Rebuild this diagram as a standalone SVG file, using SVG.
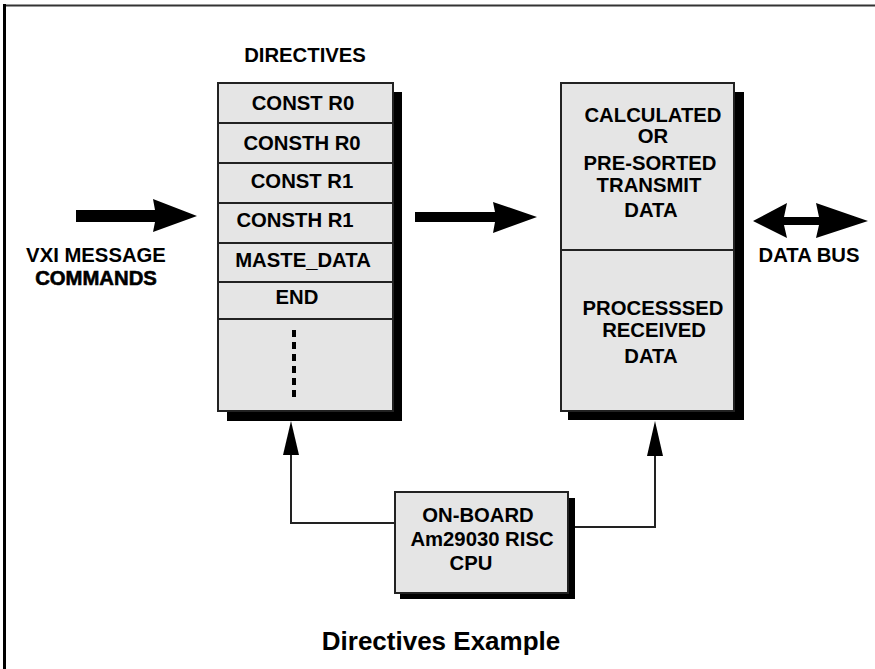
<svg xmlns="http://www.w3.org/2000/svg" width="875" height="669" viewBox="0 0 875 669">
<defs>
<style>
text{font-family:"Liberation Sans",Arial,Helvetica,sans-serif;font-weight:bold;font-size:20.3px;fill:#000;text-anchor:middle}
.box{fill:#e5e5e5;stroke:#222;stroke-width:2}
.shadow{fill:#000}
.div{stroke:#222;stroke-width:2}
.conn{fill:none;stroke:#222;stroke-width:2}
</style>
</defs>
<rect width="875" height="669" fill="#fff"/>
<g id="frame">
<line x1="3" y1="5.5" x2="875" y2="5.5" stroke="#333" stroke-width="2"/>
<line x1="4.5" y1="4" x2="4.5" y2="669" stroke="#000" stroke-width="3"/>
</g>
<g id="directives">
<text x="305" y="62">DIRECTIVES</text>
<rect class="shadow" x="227" y="92" width="175" height="329"/>
<rect class="box" x="218" y="83" width="175" height="328"/>
<line class="div" x1="218" y1="123" x2="393" y2="123"/>
<line class="div" x1="218" y1="163" x2="393" y2="163"/>
<line class="div" x1="218" y1="203" x2="393" y2="203"/>
<line class="div" x1="218" y1="243" x2="393" y2="243"/>
<line class="div" x1="218" y1="282" x2="393" y2="282"/>
<line class="div" x1="218" y1="319" x2="393" y2="319"/>
<text x="303" y="110">CONST R0</text>
<text x="302" y="150">CONSTH R0</text>
<text x="302" y="188">CONST R1</text>
<text x="295" y="227">CONSTH R1</text>
<text x="303" y="267">MASTE_DATA</text>
<text x="297" y="304">END</text>
<line x1="294" y1="330" x2="294" y2="402" stroke="#000" stroke-width="4" stroke-dasharray="7 5"/>
</g>
<g id="data">
<rect class="shadow" x="568" y="92" width="176" height="328"/>
<rect class="box" x="561" y="83" width="173" height="328"/>
<line class="div" x1="561" y1="250" x2="734" y2="250"/>
<text x="653" y="122">CALCULATED</text>
<text x="653" y="143">OR</text>
<text x="650" y="170">PRE-SORTED</text>
<text x="649" y="192">TRANSMIT</text>
<text x="651" y="217">DATA</text>
<text x="653" y="315">PROCESSSED</text>
<text x="654" y="337">RECEIVED</text>
<text x="651" y="363">DATA</text>
</g>
<g id="cpu">
<rect class="shadow" x="400" y="498" width="175" height="101"/>
<rect class="box" x="395" y="492" width="173" height="101"/>
<text x="478" y="522">ON-BOARD</text>
<text x="482" y="546">Am29030 RISC</text>
<text x="471" y="570">CPU</text>
</g>
<g id="vxi">
<text x="96" y="262">VXI MESSAGE</text>
<text x="96" y="285" stroke="#000" stroke-width="0.6">COMMANDS</text>
</g>
<g id="databus">
<path d="M753,221 L787,203 L784,217 L819,217 L816,203 L868,221 L816,238 L819,225 L784,225 L787,238 Z" fill="#000"/>
<text x="809" y="262">DATA BUS</text>
</g>
<g id="connectors">
<path d="M76,210 L155,210 L153,199 L197,216 L153,232 L155,222 L76,222 Z" fill="#000"/>
<path d="M415,212 L495,212 L493,202 L537,217 L493,233 L495,222 L415,222 Z" fill="#000"/>
<path class="conn" d="M395,523 L291,523 L291,452" />
<path d="M283,455 L291,421 L299,455 Z" fill="#000"/>
<path class="conn" d="M575,527 L655,527 L655,455" />
<path d="M647,456 L655,421 L663,456 Z" fill="#000"/>
</g>
<g id="caption">
<text x="441" y="650" style="font-size:26px">Directives Example</text>
</g>
</svg>
